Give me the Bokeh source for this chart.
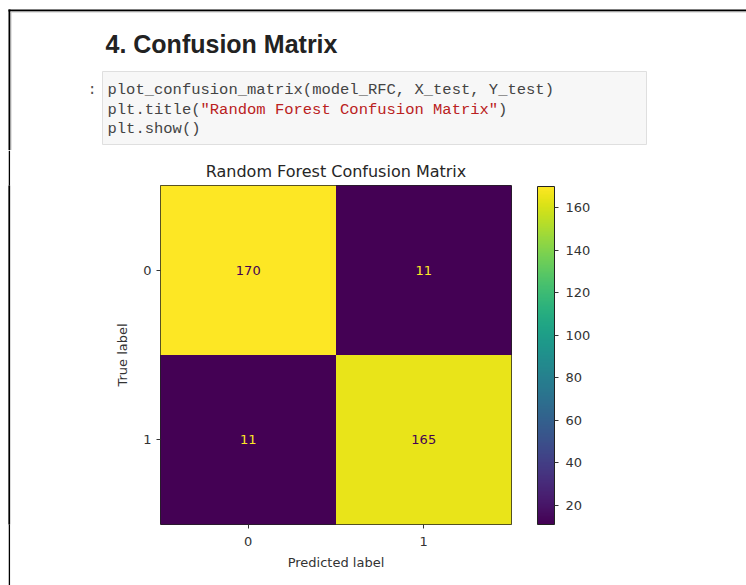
from bokeh.plotting import figure
from bokeh.layouts import column, row
from bokeh.models import (ColumnDataSource, Range1d, LinearColorMapper, ColorBar,
                          FixedTicker)
from bokeh.palettes import Viridis256
from bokeh.transform import transform
from bokeh.core.properties import value
from bokeh.embed import file_html
from bokeh.resources import INLINE

# ---------------- data ----------------
heading = "4. Confusion Matrix"
prompt = ":"
code_line1 = "plot_confusion_matrix(model_RFC, X_test, Y_test)"
code_line2_parts = ["plt.title(", '"Random Forest Confusion Matrix"', ")"]
code_line3 = "plt.show()"
chart_title = "Random Forest Confusion Matrix"
class_labels = ["0", "1"]
true_idx = [0, 0, 1, 1]
pred_idx = [0, 1, 0, 1]
counts = [170, 11, 11, 165]
cbar_ticks = [20, 40, 60, 80, 100, 120, 140, 160]
x_label = "Predicted label"
y_label = "True label"

# ---------------- layout constants (canvas pixels) ----------------
W, H = 746, 585
TOP_H = 150          # height of notebook header strip
FL, FT, FR, FB = 160, 185, 511, 524   # matrix frame edges on the page

# ================= header figure (markdown + code cell) =================
top = figure(width=W, height=TOP_H, x_range=Range1d(0, W), y_range=Range1d(TOP_H, 0),
             output_backend="svg", toolbar_location=None, min_border=0,
             x_axis_type=None, y_axis_type=None)
top.outline_line_color = None
top.grid.visible = False
top.background_fill_color = "white"
top.border_fill_color = "white"

# notebook frame lines
top.quad(left=[8, 8], right=[10, W], top=[9, 9], bottom=[TOP_H, 11],
         fill_color="black", line_color=None)
top.quad(left=[10, 10], right=[11, W], top=[11, 11], bottom=[TOP_H, 12],
         fill_color="#c8c8c8", line_color=None)
# code cell box
top.quad(left=[102], right=[646], top=[71], bottom=[144],
         fill_color="#f7f7f7", line_color="#dfdfdf", line_width=1)

top.text(x=[105], y=[43], text=[heading], text_font=value("Liberation Sans"),
         text_font_style="bold", text_font_size="25px", text_color="#222222",
         text_baseline="middle")

mono = "Liberation Mono"
msize = 15.5
cw = 0.6 * msize
code_x = 107
mids = [89.5, 109, 128.5]
top.text(x=[87], y=[mids[0]], text=[prompt], text_font=value(mono),
         text_font_size=f"{msize}px", text_color="#555555", text_baseline="middle")
top.text(x=[code_x], y=[mids[0]], text=[code_line1], text_font=value(mono),
         text_font_size=f"{msize}px", text_color="#444444", text_baseline="middle")
off = 0
for part, col in zip(code_line2_parts, ["#444444", "#ba2121", "#444444"]):
    top.text(x=[code_x + off * cw], y=[mids[1]], text=[part], text_font=value(mono),
             text_font_size=f"{msize}px", text_color=col, text_baseline="middle")
    off += len(part)
top.text(x=[code_x], y=[mids[2]], text=[code_line3], text_font=value(mono),
         text_font_size=f"{msize}px", text_color="#444444", text_baseline="middle")

# ================= left border strip: narrow solid-colour canvases =================
BOT_H = H - TOP_H


def solid(width, color):
    f = figure(width=width, height=BOT_H, x_range=Range1d(0, 1), y_range=Range1d(0, 1),
               output_backend="svg", toolbar_location=None, min_border=0,
               x_axis_type=None, y_axis_type=None)
    f.outline_line_color = None
    f.grid.visible = False
    f.background_fill_color = color
    f.border_fill_color = color
    f.quad(left=[0], right=[1], bottom=[0], top=[1], fill_color=color, line_color=None)
    return f


strip_parts = [solid(8, "white"), solid(2, "black"), solid(1, "#c8c8c8"), solid(1, "white")]
STRIP_W = 8 + 2 + 1 + 1

# ================= confusion matrix chart =================
vmin, vmax = min(counts), max(counts)
thresh = (vmin + vmax) / 2
text_colors = ["#440154" if c > thresh else "#fde725" for c in counts]

src = ColumnDataSource(dict(
    pred=pred_idx, true=true_idx, count=counts,
    label=[str(c) for c in counts], tcolor=text_colors,
))

mapper = LinearColorMapper(palette=Viridis256, low=vmin, high=vmax)

p = figure(width=W - STRIP_W, height=BOT_H,
           x_range=Range1d(-0.5, 1.5), y_range=Range1d(1.5, -0.5),
           output_backend="svg", toolbar_location=None,
           min_border_left=FL - STRIP_W, min_border_right=W - FR,
           min_border_top=FT - TOP_H, min_border_bottom=H - FB,
           title=chart_title, x_axis_label=x_label, y_axis_label=y_label)

p.background_fill_color = "white"
p.border_fill_color = "white"
p.outline_line_color = "#222222"
p.outline_line_width = 1
p.grid.visible = False

p.title.align = "center"
p.title.text_font = "DejaVu Sans"
p.title.text_font_size = "16px"
p.title.text_font_style = "normal"
p.title.text_color = "#262626"
p.title.standoff = 10

for ax in (p.xaxis, p.yaxis):
    ax.ticker = FixedTicker(ticks=[0, 1])
    ax.major_label_overrides = {0: class_labels[0], 1: class_labels[1]}
    ax.major_label_text_font = "DejaVu Sans"
    ax.major_label_text_font_size = "13px"
    ax.major_label_text_color = "#333333"
    ax.axis_label_text_font = "DejaVu Sans"
    ax.axis_label_text_font_size = "13px"
    ax.axis_label_text_font_style = "normal"
    ax.axis_label_text_color = "#333333"
    ax.axis_line_color = None
    ax.major_tick_line_color = "#333333"
    ax.major_tick_out = 4
    ax.major_tick_in = 0
    ax.minor_tick_line_color = None
p.yaxis.major_label_orientation = "horizontal"
p.xaxis.major_label_standoff = 8
p.xaxis.axis_label_standoff = 6
p.yaxis.major_label_standoff = 5
p.yaxis.axis_label_standoff = 10

p.rect(x="pred", y="true", width=1, height=1, source=src,
       fill_color=transform("count", mapper), line_color=None)
p.text(x="pred", y="true", text="label", source=src,
       text_color="tcolor", text_align="center", text_baseline="middle",
       text_font=value("DejaVu Sans"), text_font_size="13px")

cbar = ColorBar(color_mapper=mapper, ticker=FixedTicker(ticks=cbar_ticks),
                orientation="vertical", width=17, height=FB - FT - 1,
                location=(537 - FL, 0), padding=0, margin=0,
                major_tick_out=4, major_tick_in=0,
                major_tick_line_color="#333333",
                minor_tick_line_color=None,
                bar_line_color="#222222", border_line_color=None,
                background_fill_alpha=0,
                label_standoff=7,
                major_label_text_font="DejaVu Sans",
                major_label_text_font_size="13px",
                major_label_text_color="#333333")
p.add_layout(cbar, "center")

layout = column(top, row(*strip_parts, p, spacing=0), spacing=0)

open("out.html", "w").write(file_html(layout, INLINE))
